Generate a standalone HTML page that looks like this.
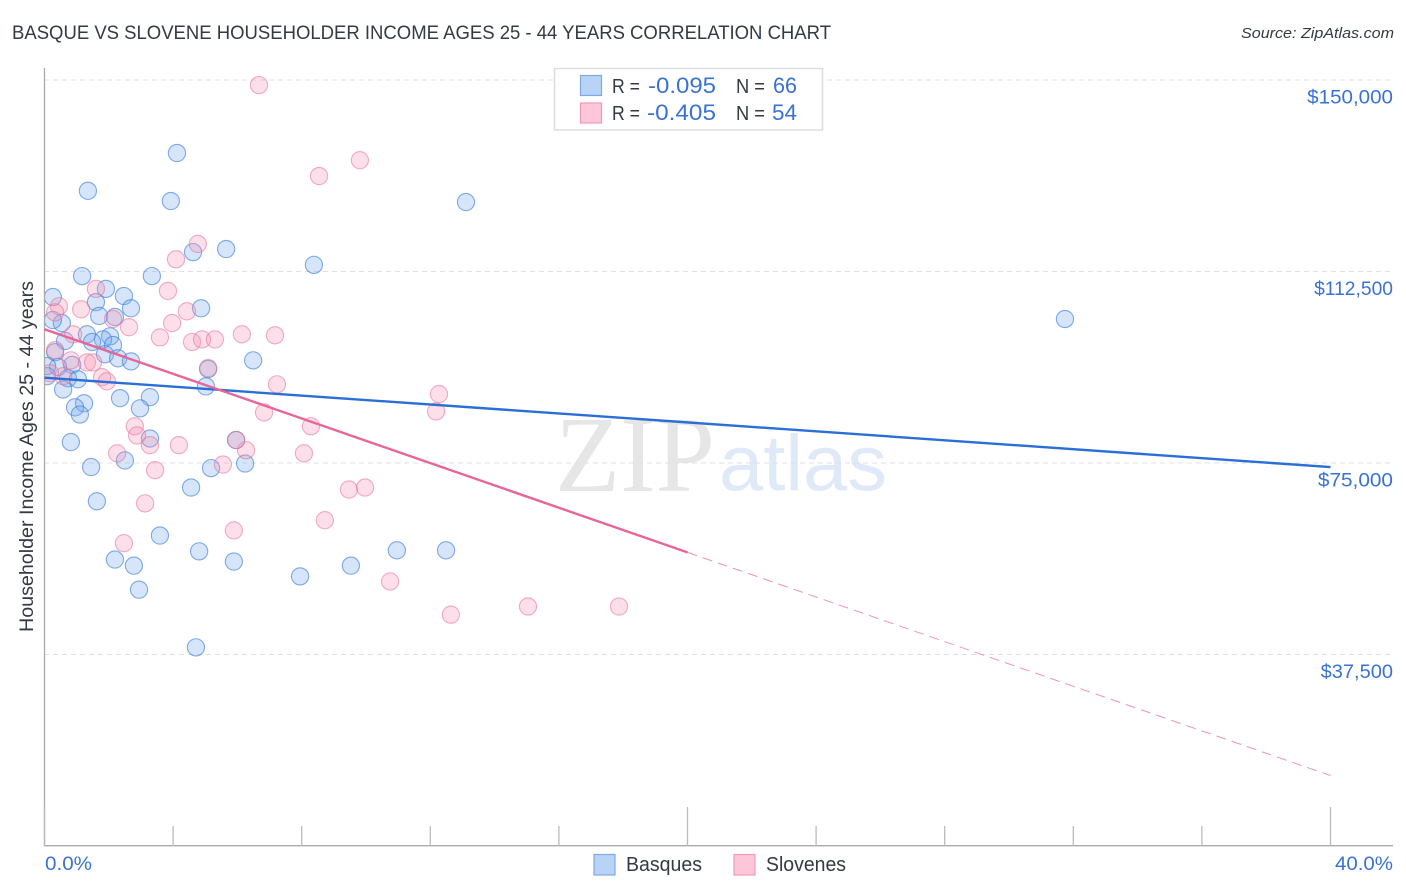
<!DOCTYPE html>
<html lang="en">
<head>
<meta charset="utf-8">
<title>Basque vs Slovene Householder Income Correlation Chart</title>
<style>
html,body{margin:0;padding:0;background:#fff;}
svg{display:block;font-family:"Liberation Sans",sans-serif;}
</style>
</head>
<body>
<svg id="chart" width="1406" height="892" viewBox="0 0 1406 892" xmlns="http://www.w3.org/2000/svg">
  <defs>
    <clipPath id="plot-clip"><rect x="45" y="60" width="1361" height="786"/></clipPath>
  </defs>
  <rect x="0" y="0" width="1406" height="892" fill="#ffffff"/>
  <text x="12" y="39" font-size="19" fill="#333a44" textLength="819" lengthAdjust="spacingAndGlyphs">BASQUE VS SLOVENE HOUSEHOLDER INCOME AGES 25 - 44 YEARS CORRELATION CHART</text>
  <text x="1241" y="38" font-size="15" font-style="italic" fill="#333a44" textLength="153" lengthAdjust="spacingAndGlyphs">Source: ZipAtlas.com</text>
  <text x="555" y="491" font-family="'Liberation Serif',serif" font-size="108" fill="#e6e6e6" textLength="160" lengthAdjust="spacingAndGlyphs">ZIP</text>
  <text x="719" y="490" font-size="79" fill="#e0e9f8" textLength="168" lengthAdjust="spacingAndGlyphs">atlas</text>
  <g id="grid"></g>
  <g id="axes"></g>
  <g id="points" clip-path="url(#plot-clip)"></g>
  <g id="lines"></g>
  <g id="ticklabels"></g>
  <text transform="translate(33,632) rotate(-90)" font-size="19" fill="#333a44" textLength="351" lengthAdjust="spacingAndGlyphs">Householder Income Ages 25 - 44 years</text>

  <g>
    <rect x="554.5" y="68.5" width="268" height="61.5" fill="#ffffff" stroke="#dddddd" stroke-width="1.5"/>
    <rect x="580.5" y="75.5" width="21" height="20" fill="#b8d3f6" stroke="#7eabe6" stroke-width="1.2"/>
    <text x="612" y="93" font-size="20" fill="#333a44" textLength="28" lengthAdjust="spacingAndGlyphs">R =</text>
    <text x="648" y="93" font-size="22" fill="#3a72d4" textLength="68" lengthAdjust="spacingAndGlyphs">-0.095</text>
    <text x="736" y="93" font-size="20" fill="#333a44" textLength="29" lengthAdjust="spacingAndGlyphs">N =</text>
    <text x="773" y="93" font-size="22" fill="#3a72d4" textLength="24" lengthAdjust="spacingAndGlyphs">66</text>
    <rect x="580.5" y="103" width="21" height="20" fill="#fdc7d9" stroke="#f09ab8" stroke-width="1.2"/>
    <text x="612" y="120" font-size="20" fill="#333a44" textLength="28" lengthAdjust="spacingAndGlyphs">R =</text>
    <text x="647" y="120" font-size="22" fill="#3a72d4" textLength="69" lengthAdjust="spacingAndGlyphs">-0.405</text>
    <text x="736" y="120" font-size="20" fill="#333a44" textLength="29" lengthAdjust="spacingAndGlyphs">N =</text>
    <text x="772" y="120" font-size="22" fill="#3a72d4" textLength="25" lengthAdjust="spacingAndGlyphs">54</text>
  </g>

  <g>
    <rect x="594" y="854.5" width="21" height="20.5" fill="#b8d3f6" stroke="#7eabe6" stroke-width="1.2"/>
    <text x="626" y="871" font-size="20" fill="#333a44" textLength="76" lengthAdjust="spacingAndGlyphs">Basques</text>
    <rect x="734" y="854.5" width="21" height="20.5" fill="#fdc7d9" stroke="#f09ab8" stroke-width="1.2"/>
    <text x="766" y="871" font-size="20" fill="#333a44" textLength="80" lengthAdjust="spacingAndGlyphs">Slovenes</text>
  </g>
</svg>

<script>
const yTickValues = [150000, 112500, 75000, 37500];
const yTickLabels = ["$150,000", "$112,500", "$75,000", "$37,500"];
const xTickValues = [0, 4, 8, 12, 16, 20, 24, 28, 32, 36, 40];
const xEndLabels = ["0.0%", "40.0%"];

const basqueX = [4.12,1.35,3.93,13.11,5.65,4.62,8.38,1.17,3.34,31.74,0.26,2.47,1.91,1.60,2.69,4.87,1.70,2.19,0.54,0.26,1.32,2.04,1.82,1.48,0.64,2.13,1.88,2.29,2.69,6.49,0.33,0.86,0.42,0.08,5.09,0.73,1.04,0.08,0.58,5.02,2.35,3.28,1.23,0.95,2.97,1.10,3.28,5.96,0.82,2.50,1.45,5.18,6.24,4.56,1.63,3.59,4.81,2.19,2.78,5.89,2.94,7.95,9.53,10.96,12.49,4.71];
const basqueY = [135700,128300,126300,126100,116900,116300,113800,111600,111600,103200,107500,107700,109100,106500,105300,105300,103800,103600,102400,103000,100200,99800,99200,98700,98900,98100,96300,95500,94900,95100,96700,94200,93800,94000,93400,91600,91400,92000,89400,90000,87700,87900,86700,85900,85700,84500,79800,79500,79100,75500,74200,74000,74900,70200,67500,60800,57700,56100,54900,55700,50200,52800,54900,57900,57900,38900];

const sloveneX = [6.67,9.81,8.54,4.77,4.09,3.84,1.60,0.45,1.14,0.33,2.13,2.63,0.89,3.59,4.43,3.97,4.59,4.90,5.30,6.14,7.17,5.09,7.23,0.33,0.82,1.32,1.51,1.79,1.94,2.81,2.88,3.28,2.26,0.58,0.17,4.18,6.27,5.96,8.07,3.44,5.55,3.13,9.47,9.97,8.72,5.89,2.47,10.75,12.64,15.04,17.87,12.18,12.27,6.83,8.29];
const sloveneY = [149000,134300,131200,117900,114900,108700,109100,105700,105100,104500,103200,101600,100200,99600,104700,102400,98700,99200,99200,100200,100000,93600,90400,97100,95100,94700,94700,91800,91000,82200,80400,78500,76900,92000,92600,78500,77500,79500,76900,73600,74700,67100,69800,70200,63800,61800,59300,51800,45300,46900,46900,85100,88500,84900,82200];

const basqueTrendX = [0, 40];
const basqueTrendY = [91700, 74200];
const sloveneSolidX = [0, 20];
const sloveneSolidY = [101200, 57500];
const sloveneDashX = [20, 40];
const sloveneDashY = [57500, 13800];

const SVG_NS = "http://www.w3.org/2000/svg";
function xScale(v) { return 44.5 + v * 32.15; }
function yScale(v) { return 846 - v * 766 / 150000; }
function make(tag, parent, attrs) {
  const el = document.createElementNS(SVG_NS, tag);
  for (const k in attrs) el.setAttribute(k, attrs[k]);
  document.getElementById(parent).appendChild(el);
  return el;
}
function labelWidth(text) {
  const adv = {"$": 11, ",": 5, "0": 12.7, "1": 8, "2": 10.5, "3": 10, "5": 11, "7": 10};
  let w = 0;
  for (const c of text) w += adv[c];
  return w;
}

yTickValues.forEach(function (v, i) {
  const y = yScale(v);
  const line = make("line", "grid", {x1: 44, x2: 1393, y1: y, y2: y, stroke: "#e0e0e0", "stroke-width": 1, "stroke-dasharray": "5 4"});
  
  
  const label = make("text", "ticklabels", {x: 1393, y: y + 23.5, "font-size": 19.5, fill: "#3a72d4", "text-anchor": "end"});
  
  
  label.setAttribute('textLength', labelWidth(yTickLabels[i]));
  label.setAttribute('lengthAdjust', 'spacingAndGlyphs');
  label.textContent = yTickLabels[i];
});

const yAxisLine = make("line", "axes", {x1: 44.5, x2: 44.5, y1: 68, y2: 846, stroke: "#aaaaaa", "stroke-width": 1.3});


const xAxisLine = make("line", "axes", {x1: 44, x2: 1393, y1: 845.7, y2: 845.7, stroke: "#aaaaaa", "stroke-width": 1.3});



xTickValues.forEach(function (v) {
  const x = xScale(v);
  const top = v % 20 === 0 ? 807 : 826;
  const tick = make("line", "axes", {x1: x, x2: x, y1: top, y2: 846, stroke: "#bbbbbb", "stroke-width": 1.3});
  
  
});

const xStartLabel = make("text", "ticklabels", {x: 45, y: 870, "font-size": 19, fill: "#3a72d4", textLength: 47, lengthAdjust: "spacingAndGlyphs"});


xStartLabel.textContent = xEndLabels[0];
const xEndLabel = make("text", "ticklabels", {x: 1393, y: 870, "font-size": 19, fill: "#3a72d4", "text-anchor": "end", textLength: 58, lengthAdjust: "spacingAndGlyphs"});


xEndLabel.textContent = xEndLabels[1];

basqueX.forEach(function (v, i) {
  const dot = make("circle", "points", {cx: xScale(v), cy: yScale(basqueY[i]), r: 8.6, fill: "rgba(120,170,235,0.3)", stroke: "rgba(50,120,220,0.6)", "stroke-width": 1.1});
  
  
});
sloveneX.forEach(function (v, i) {
  const dot = make("circle", "points", {cx: xScale(v), cy: yScale(sloveneY[i]), r: 8.6, fill: "rgba(245,150,180,0.3)", stroke: "rgba(230,110,150,0.55)", "stroke-width": 1.1});
  
  
});

const basqueTrend = make("line", "lines", {x1: xScale(basqueTrendX[0]), y1: yScale(basqueTrendY[0]), x2: xScale(basqueTrendX[1]), y2: yScale(basqueTrendY[1]), stroke: "#2a6fd6", "stroke-width": 2.4});


const sloveneSolid = make("line", "lines", {x1: xScale(sloveneSolidX[0]), y1: yScale(sloveneSolidY[0]), x2: xScale(sloveneSolidX[1]), y2: yScale(sloveneSolidY[1]), stroke: "#e8659a", "stroke-width": 2.4});


const sloveneDash = make("line", "lines", {x1: xScale(sloveneDashX[0]), y1: yScale(sloveneDashY[0]), x2: xScale(sloveneDashX[1]), y2: yScale(sloveneDashY[1]), stroke: "#e8659a", "stroke-width": 1, "stroke-opacity": 0.7, "stroke-dasharray": "10 6"});


</script>
</body>
</html>
